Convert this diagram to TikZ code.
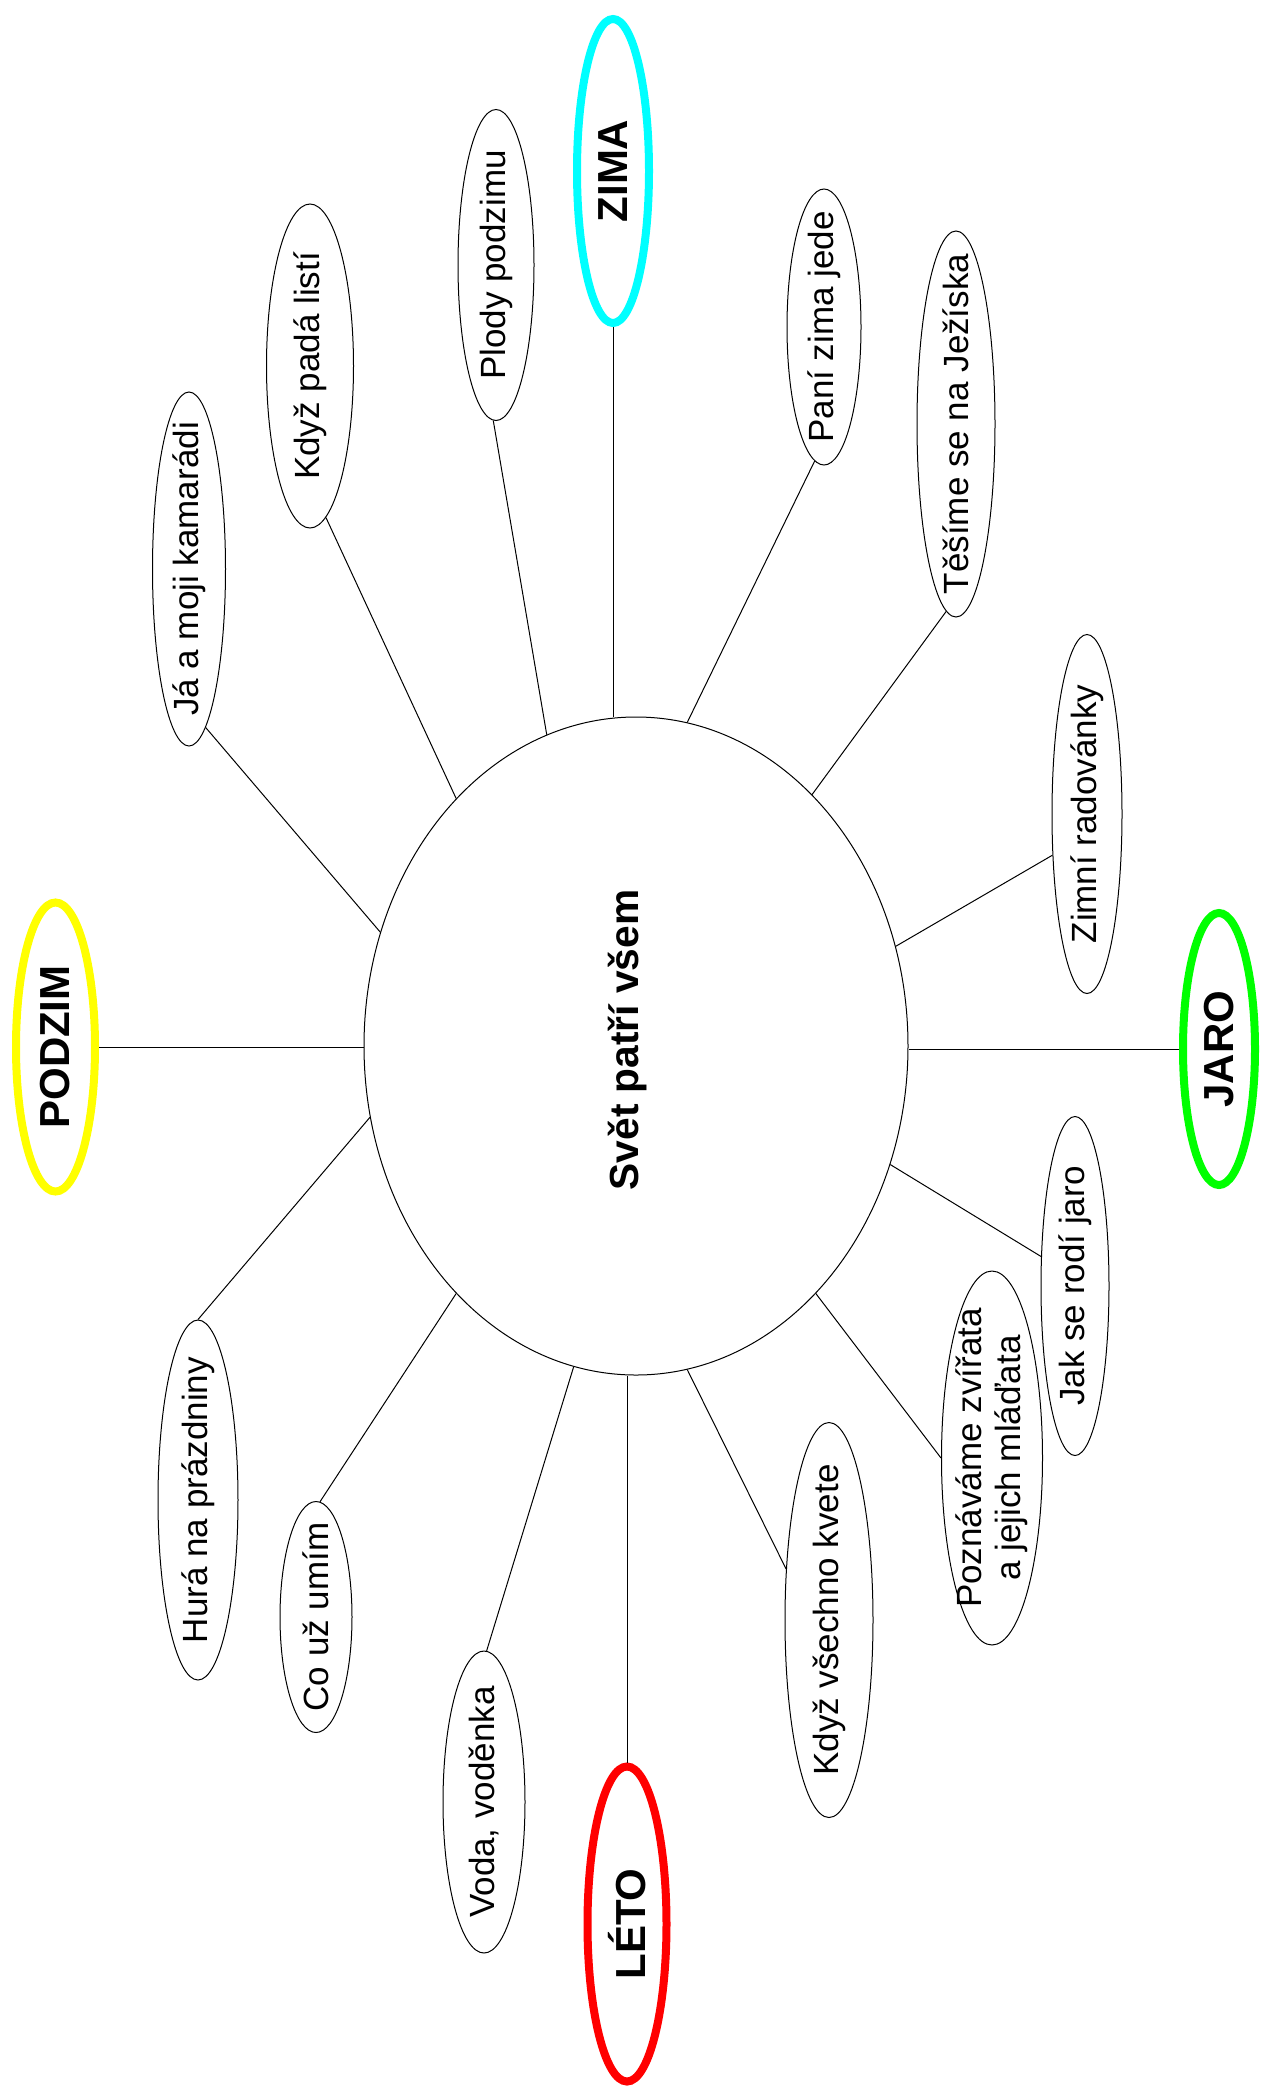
\documentclass[tikz,border=0pt]{standalone}
\usepackage{fontspec}
\setmainfont{Liberation Sans}
\usetikzlibrary{shapes.geometric}
\definecolor{zimacol}{RGB}{0,255,255}
\definecolor{podzimcol}{RGB}{255,255,0}
\definecolor{jarocol}{RGB}{0,255,0}
\definecolor{letocol}{RGB}{255,0,0}
\begin{document}
\begin{tikzpicture}[x=0.75pt,y=-0.75pt,
  oval/.style 2 args={ellipse, draw=black, line width=0.75pt, fill=white, inner sep=0pt,
    minimum width=#1*0.75pt, minimum height=#2*0.75pt},
  season/.style n args={3}{ellipse, draw=#1, line width=6pt, fill=white, inner sep=0pt,
    minimum width=#2*0.75pt, minimum height=#3*0.75pt},
  smalltxt/.style={rotate=90, inner sep=0pt, align=center, font=\fontsize{26.25}{29}\selectfont},
  bigtxt/.style={rotate=90, inner sep=0pt, font=\bfseries\fontsize{31.5}{36}\selectfont},
  midtxt/.style={rotate=90, inner sep=0pt, font=\bfseries\fontsize{30.5}{35}\selectfont},
  link/.style={draw=black, line width=0.75pt}]
\useasboundingbox[fill=white] (0,0) rectangle (1262,2089);

% central circle
\node[oval={544}{658}] (c) at (636,1046) {};
\node[midtxt] (title) at (628,1040) {Svět patří všem};

% seasons
\node[season={zimacol}{72}{304}, label={[bigtxt]center:ZIMA}] (zima) at (613,171) {};
\node[season={podzimcol}{79}{289}, label={[bigtxt]center:PODZIM}] (podzim) at (55.5,1047) {};
\node[season={jarocol}{72}{272}, label={[bigtxt]center:JARO}] (jaro) at (1219,1049) {};
\node[season={letocol}{79}{315}, label={[bigtxt]center:LÉTO}] (leto) at (627,1924) {};

% topics
\node[oval={73}{354}, label={[smalltxt]center:Já a moji kamarádi}] (ja) at (189,569) {};
\node[oval={87}{324}, label={[smalltxt]center:Když padá listí}] (listi) at (310,366) {};
\node[oval={76}{311}, label={[smalltxt]center:Plody podzimu}] (plody) at (496,265) {};
\node[oval={74}{276}, label={[smalltxt]center:Paní zima jede}] (pani) at (824,327) {};
\node[oval={78}{386}, label={[smalltxt]center:Těšíme se na Ježíska}] (tesime) at (956,424) {};
\node[oval={70}{359}, label={[smalltxt]center:Zimní radovánky}] (zimni) at (1087,814) {};
\node[oval={68}{339}, label={[smalltxt]center:Jak se rodí jaro}] (jak) at (1075,1286) {};
\node[oval={101}{374}, label={[smalltxt]center:Poznáváme zvířata\\a jejich mláďata}] (pozn) at (992,1458) {};
\node[oval={88}{395}, label={[smalltxt]center:Když všechno kvete}] (kvete) at (829,1620) {};
\node[oval={82}{302}, label={[smalltxt]center:Voda, voděnka}] (voda) at (484,1802) {};
\node[oval={72}{231}, label={[smalltxt]center:Co už umím}] (umim) at (316,1617) {};
\node[oval={80}{360}, label={[smalltxt]center:Hurá na prázdniny}] (hura) at (198,1500) {};

% connectors
\draw[link] (zima.south) -- (zima.south |- c.north);
\draw[link] (podzim.east) -- (podzim.east -| c.west);
\draw[link] (jaro.west) -- (jaro.west -| c.east);
\draw[link] (leto.north) -- (leto.north |- c.south);
\draw[link] (ja.-84.3) -- (c.156.1);
\draw[link] (listi.-84.9) -- (c.126.6);
\draw[link] (plody.-91) -- (c.106);
\draw[link] (pani.-94.1) -- (c.81.8);
\draw[link] (tesime.-93.8) -- (c.55.2);
\draw[link] (zimni.230) -- (c.21.4);
\draw[link] (jak.139) -- (c.-25.1);
\draw[link] (pozn.west) -- (c.-54);
\draw[link] (kvete.130) -- (c.-81.4);
\draw[link] (voda.89) -- (c.259.8);
\draw[link] (umim.88) -- (c.234.3);
\draw[link] (hura.north) -- (c.195.7);
\end{tikzpicture}
\end{document}
